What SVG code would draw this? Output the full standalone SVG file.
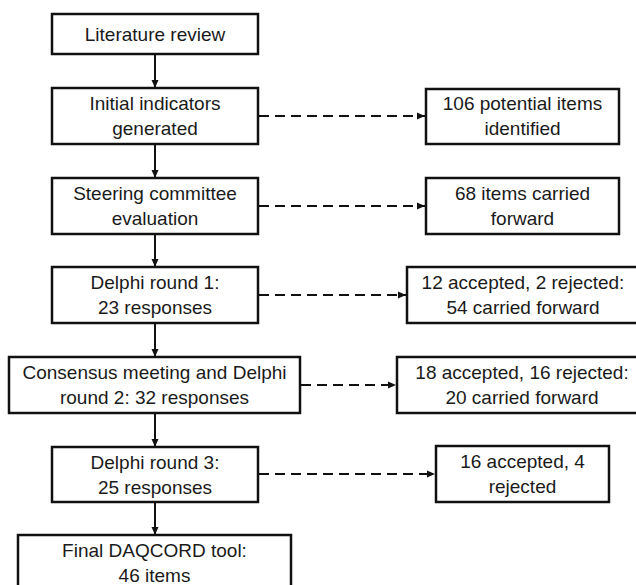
<svg xmlns="http://www.w3.org/2000/svg" width="636" height="585" viewBox="0 0 636 585">
  <defs>
    <marker id="arr" markerUnits="userSpaceOnUse" markerWidth="9" markerHeight="8" refX="8" refY="4" orient="auto">
      <path d="M0,0.5 L8,4 L0,7.5 z" fill="#111"/>
    </marker>
    <style>
      .box { fill: #fff; stroke: #111; stroke-width: 2.5; }
      .lbl { font-family: "Liberation Sans", Arial, sans-serif; font-size: 19px; fill: #1a1a1a; text-anchor: middle; }
      .solid { stroke: #111; stroke-width: 2; fill: none; marker-end: url(#arr); }
      .dash { stroke: #111; stroke-width: 2; fill: none; stroke-dasharray: 10 6; marker-end: url(#arr); }
    </style>
  </defs>
  <rect width="636" height="585" fill="#fff"/>

  <g id="connectors">
    <line class="solid" x1="155" y1="54" x2="155" y2="88"/>
    <line class="solid" x1="155" y1="144" x2="155" y2="178"/>
    <line class="solid" x1="155" y1="234" x2="155" y2="267"/>
    <line class="solid" x1="155" y1="323" x2="155" y2="357"/>
    <line class="solid" x1="155" y1="413" x2="155" y2="447"/>
    <line class="solid" x1="155" y1="502" x2="155" y2="535"/>
    <line class="dash" x1="259" y1="116" x2="425" y2="116"/>
    <line class="dash" x1="259" y1="206" x2="425" y2="206"/>
    <line class="dash" x1="259" y1="295" x2="406" y2="295"/>
    <line class="dash" x1="301" y1="385" x2="396" y2="385"/>
    <line class="dash" x1="259" y1="474" x2="435" y2="474"/>
  </g>

  <g id="literature-review">
    <rect class="box" x="52" y="14" width="206" height="40"/>
    <text class="lbl" x="155" y="41">Literature review</text>
  </g>
  <g id="initial-indicators">
    <rect class="box" x="52" y="88" width="206" height="56"/>
    <text class="lbl" x="155" y="110">Initial indicators</text>
    <text class="lbl" x="155" y="135">generated</text>
  </g>
  <g id="steering-committee">
    <rect class="box" x="52" y="178" width="206" height="56"/>
    <text class="lbl" x="155" y="200">Steering committee</text>
    <text class="lbl" x="155" y="225">evaluation</text>
  </g>
  <g id="delphi-round-1">
    <rect class="box" x="52" y="267" width="206" height="56"/>
    <text class="lbl" x="155" y="289">Delphi round 1:</text>
    <text class="lbl" x="155" y="314">23 responses</text>
  </g>
  <g id="consensus-meeting">
    <rect class="box" x="9" y="357" width="291" height="56"/>
    <text class="lbl" x="154.5" y="379">Consensus meeting and Delphi</text>
    <text class="lbl" x="154.5" y="404">round 2: 32 responses</text>
  </g>
  <g id="delphi-round-3">
    <rect class="box" x="52" y="447" width="206" height="55"/>
    <text class="lbl" x="155" y="469">Delphi round 3:</text>
    <text class="lbl" x="155" y="494">25 responses</text>
  </g>
  <g id="final-tool">
    <rect class="box" x="18" y="535" width="273" height="62"/>
    <text class="lbl" x="154.5" y="557">Final DAQCORD tool:</text>
    <text class="lbl" x="154.5" y="582">46 items</text>
  </g>

  <g id="potential-items">
    <rect class="box" x="426" y="89" width="193" height="55"/>
    <text class="lbl" x="522.5" y="110">106 potential items</text>
    <text class="lbl" x="522.5" y="135">identified</text>
  </g>
  <g id="items-carried">
    <rect class="box" x="426" y="178" width="193" height="56"/>
    <text class="lbl" x="522.5" y="200">68 items carried</text>
    <text class="lbl" x="522.5" y="225">forward</text>
  </g>
  <g id="round1-result">
    <rect class="box" x="407" y="267" width="232" height="56"/>
    <text class="lbl" x="523" y="289">12 accepted, 2 rejected:</text>
    <text class="lbl" x="523" y="314">54 carried forward</text>
  </g>
  <g id="round2-result">
    <rect class="box" x="397" y="357" width="252" height="56"/>
    <text class="lbl" x="522" y="379">18 accepted, 16 rejected:</text>
    <text class="lbl" x="522" y="404">20 carried forward</text>
  </g>
  <g id="round3-result">
    <rect class="box" x="436" y="446" width="173" height="56"/>
    <text class="lbl" x="522.5" y="468">16 accepted, 4</text>
    <text class="lbl" x="522.5" y="493">rejected</text>
  </g>
</svg>
